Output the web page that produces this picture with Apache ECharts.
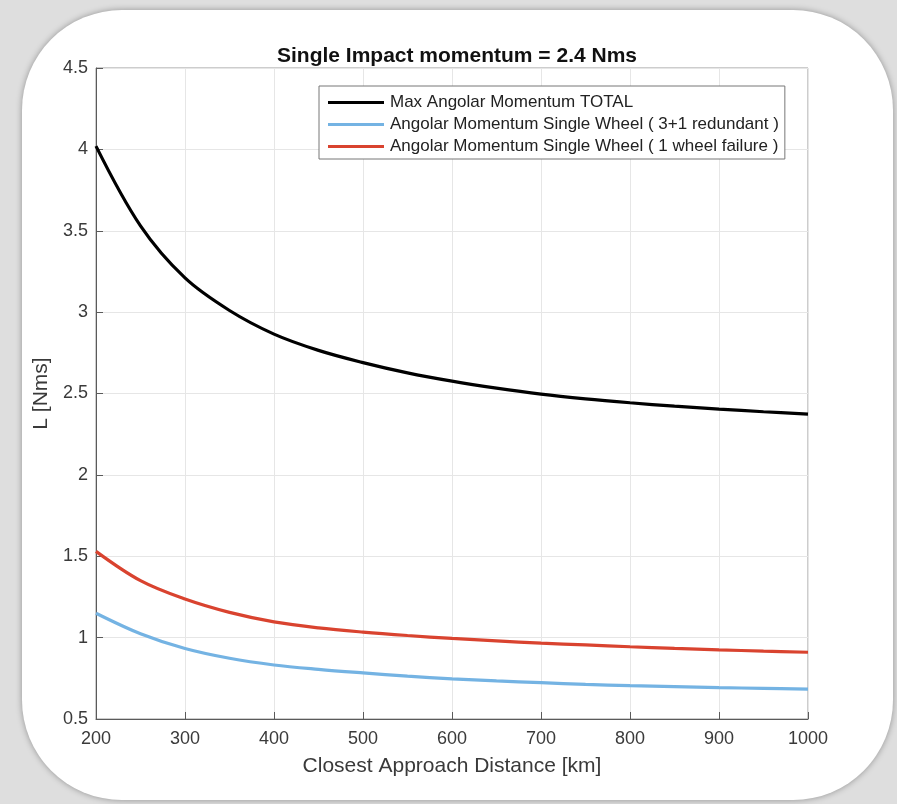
<!DOCTYPE html>
<html>
<head>
<meta charset="utf-8">
<title>Single Impact momentum</title>
<script src="https://cdn.jsdelivr.net/npm/echarts@6/dist/echarts.min.js"></script>
<style>
html, body {
  margin: 0;
  padding: 0;
  width: 897px;
  height: 804px;
  overflow: hidden;
  background: #dedede;
}
/* white rounded card behind the plot */
.card {
  position: absolute;
  left: 22px;
  top: 10px;
  width: 871px;
  height: 790px;
  background: #fff;
  border-radius: 100px;
  box-shadow: 0 0 6px rgba(0, 0, 0, 0.35);
}
#chart {
  position: absolute;
  left: 0;
  top: 0;
  width: 897px;
  height: 804px;
}
</style>
</head>
<body>
<div class="card"></div>
<div id="chart"></div>
<script>
// distance [km]
const distances = [200, 250, 300, 350, 400, 450, 500, 550, 600, 650, 700, 750, 800, 850, 900, 950, 1000]
// angular momentum [Nms]
const totalMomentum = [4.02, 3.53, 3.21, 3.01, 2.865, 2.765, 2.69, 2.627, 2.576, 2.533, 2.496, 2.467, 2.443, 2.422, 2.404, 2.388, 2.373]
const redundantWheel = [1.15, 1.024, 0.933, 0.873, 0.832, 0.805, 0.783, 0.763, 0.747, 0.734, 0.723, 0.713, 0.705, 0.699, 0.693, 0.688, 0.683]
const failureWheel = [1.53, 1.35, 1.237, 1.155, 1.097, 1.06, 1.034, 1.013, 0.995, 0.98, 0.966, 0.955, 0.944, 0.934, 0.925, 0.917, 0.91]

const seriesNames = [
  'Max Angolar Momentum TOTAL',
  'Angolar Momentum Single Wheel ( 3+1 redundant )',
  'Angolar Momentum Single Wheel ( 1 wheel failure )'
]

function pairs(values) {
  return distances.map((d, i) => [d, values[i]])
}

const myChart = echarts.init(document.getElementById('chart'))
const axisColor = '#5a5a5a'
const labelColor = '#3a3a3a'

const option = {
  animation: false,
  textStyle: {
    fontFamily: 'Liberation Sans, Arial, sans-serif'
  },
  title: {
    text: 'Single Impact momentum = 2.4 Nms',
    left: 452,
    top: 41,
    textAlign: 'center',
    textStyle: {
      fontSize: 21,
      fontWeight: 'bold',
      color: '#111'
    }
  },
  legend: {
    orient: 'vertical',
    left: 319,
    top: 86,
    padding: [8, 6, 4, 9],
    itemGap: 5,
    itemWidth: 56,
    itemHeight: 3,
    icon: 'rect',
    borderColor: '#777',
    borderWidth: 1,
    backgroundColor: '#fff',
    textStyle: {
      fontSize: 17,
      color: '#222',
      padding: [0, 0, 0, 1]
    },
    data: seriesNames
  },
  grid: {
    left: 96,
    right: 89,
    top: 68,
    bottom: 85,
    show: true,
    borderColor: '#9a9a9a',
    borderWidth: 1
  },
  xAxis: {
    type: 'value',
    min: 200,
    max: 1000,
    interval: 100,
    name: 'Closest Approach Distance [km]',
    nameLocation: 'middle',
    nameGap: 37,
    nameTextStyle: {
      fontSize: 21,
      color: labelColor
    },
    axisLine: { show: true, lineStyle: { color: axisColor } },
    axisTick: { show: true, inside: true, length: 7, lineStyle: { color: axisColor } },
    axisLabel: {
      fontSize: 18,
      color: labelColor,
      margin: 11,
      formatter: function(v) { return String(v) }
    },
    splitLine: { show: true, lineStyle: { color: '#e6e6e6' } }
  },
  yAxis: {
    type: 'value',
    min: 0.5,
    max: 4.5,
    interval: 0.5,
    name: 'L [Nms]',
    nameLocation: 'middle',
    nameGap: 37,
    nameTextStyle: {
      fontSize: 21,
      color: labelColor
    },
    axisLine: { show: true, lineStyle: { color: axisColor } },
    axisTick: { show: true, inside: true, length: 7, lineStyle: { color: axisColor } },
    axisLabel: { fontSize: 18, color: labelColor, margin: 8 },
    splitLine: { show: true, lineStyle: { color: '#e6e6e6' } }
  },
  series: [
    {
      name: seriesNames[0],
      type: 'line',
      smooth: 0.35,
      showSymbol: false,
      data: pairs(totalMomentum),
      itemStyle: { color: '#000' },
      lineStyle: { color: '#000', width: 3.2 }
    },
    {
      name: seriesNames[1],
      type: 'line',
      smooth: 0.35,
      showSymbol: false,
      data: pairs(redundantWheel),
      itemStyle: { color: '#74b3e3' },
      lineStyle: { color: '#74b3e3', width: 3.2 }
    },
    {
      name: seriesNames[2],
      type: 'line',
      smooth: 0.35,
      showSymbol: false,
      data: pairs(failureWheel),
      itemStyle: { color: '#d9432f' },
      lineStyle: { color: '#d9432f', width: 3.2 }
    }
  ]
}
myChart.setOption(option)
window.addEventListener('resize', function() {
  myChart.resize()
})
</script>
</body>
</html>
